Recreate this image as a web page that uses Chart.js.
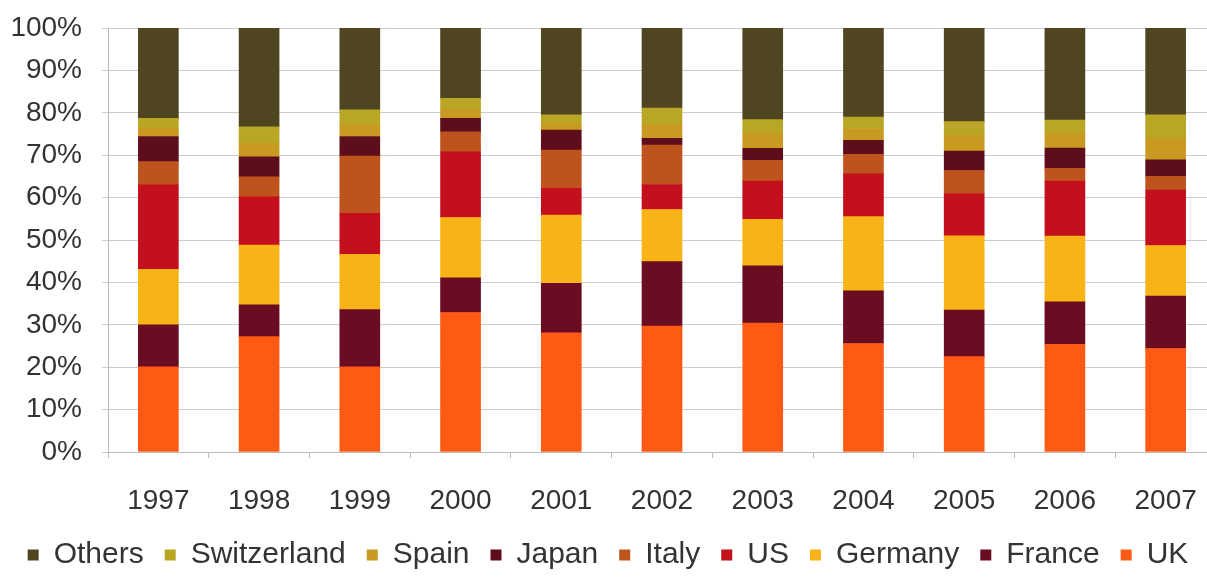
<!DOCTYPE html>
<html>
<head>
<meta charset="utf-8">
<script src="https://cdn.jsdelivr.net/npm/chart.js@4/dist/chart.umd.min.js"></script>
<style>
  html, body { margin: 0; padding: 0; background: #fff; overflow: hidden; }
  #wrap { width: 1220px; height: 580px; }
</style>
</head>
<body>
<div id="wrap"><canvas id="chartPays"></canvas></div>
<script>
const annees = ['1997', '1998', '1999', '2000', '2001', '2002', '2003', '2004', '2005', '2006', '2007'];

// parts en %, de bas en haut de la pile
const uk          = [20.1, 27.2, 20.1, 32.9, 28.1, 29.7, 30.4, 25.6, 22.5, 25.4, 24.4];
const france      = [9.9, 7.5, 13.5, 8.2, 11.7, 15.2, 13.5, 12.4, 11.0, 10.0, 12.4];
const germany     = [13.1, 14.1, 13.0, 14.2, 16.1, 12.3, 11.0, 17.5, 17.5, 15.5, 11.9];
const us          = [19.9, 11.4, 9.7, 15.5, 6.3, 5.9, 9.0, 10.1, 9.9, 13.0, 13.1];
const italy       = [5.5, 4.7, 13.5, 4.7, 9.0, 9.3, 4.9, 4.6, 5.5, 3.0, 3.2];
const japan       = [5.9, 4.7, 4.6, 3.2, 4.7, 1.6, 2.8, 3.3, 4.6, 4.8, 3.9];
const spain       = [2.0, 3.2, 2.8, 2.2, 1.6, 3.3, 3.6, 2.8, 3.6, 3.4, 5.1];
const switzerland = [2.3, 3.9, 3.5, 2.5, 2.0, 3.8, 3.2, 2.7, 3.3, 3.2, 5.5];
const others      = [21.3, 23.3, 19.3, 16.6, 20.5, 18.9, 21.6, 21.0, 22.1, 21.7, 20.5];

const graduations = [0, 10, 20, 30, 40, 50, 60, 70, 80, 90, 100];

const series = [
  { label: 'UK', data: uk, backgroundColor: '#ff5a14' },
  { label: 'France', data: france, backgroundColor: '#6a0c22' },
  { label: 'Germany', data: germany, backgroundColor: '#f8b416' },
  { label: 'US', data: us, backgroundColor: '#c40f1c' },
  { label: 'Italy', data: italy, backgroundColor: '#bf531d' },
  { label: 'Japan', data: japan, backgroundColor: '#5e0e1a' },
  { label: 'Spain', data: spain, backgroundColor: '#c89a22' },
  { label: 'Switzerland', data: switzerland, backgroundColor: '#b8a624' },
  { label: 'Others', data: others, backgroundColor: '#4f4621' }
];

Chart.defaults.font.family = '"Liberation Sans", Arial, sans-serif';
Chart.defaults.color = '#333';

const ctx = document.getElementById('chartPays').getContext('2d');
new Chart(ctx, {
  type: 'bar',
  data: {
    labels: annees,
    datasets: series.map(s => ({ ...s, barThickness: 40, borderWidth: 0 }))
  },
  options: {
    responsive: true,
    maintainAspectRatio: false,
    animation: false,
    layout: { padding: { left: 0, top: 28, right: 4, bottom: 0 } },
    plugins: {
      tooltip: { enabled: false },
      legend: {
        position: 'bottom',
        reverse: true,
        labels: {
          boxWidth: 11,
          boxHeight: 11,
          padding: 21,
          color: '#333',
          font: { size: 30 }
        }
      }
    },
    scales: {
      x: {
        stacked: true,
        grid: { drawOnChartArea: false, drawTicks: true, tickLength: 6, color: '#bbb', offset: true },
        border: { color: '#bbb' },
        ticks: { padding: 26, color: '#333', font: { size: 28 } },
        afterFit: axis => { axis.height = 67; axis.paddingLeft = 0; axis.paddingRight = 0; }
      },
      y: {
        stacked: true,
        min: 0,
        max: 100,
        afterBuildTicks: axis => { axis.ticks = graduations.map(v => ({ value: v })); },
        grid: { color: '#ccc', tickLength: 6 },
        border: { color: '#bbb' },
        ticks: { padding: 20, autoSkip: false, color: '#333', font: { size: 28 }, callback: v => v + '%' },
        afterFit: axis => { axis.width = 108; axis.paddingTop = 0; axis.paddingBottom = 0; }
      }
    }
  }
});
</script>
</body>
</html>
